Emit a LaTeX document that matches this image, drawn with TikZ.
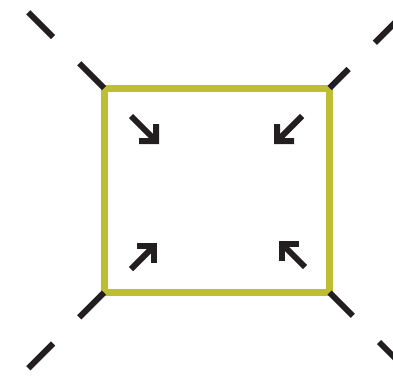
\documentclass[tikz,border=0pt]{standalone}
\usetikzlibrary{arrows.meta}
\definecolor{frame}{RGB}{190,190,52}
\definecolor{ink}{RGB}{35,31,32}
\tikzset {
  >={Straight Barb[angle=90:17pt, line join=miter, line cap=butt]},
  border/.style={draw=frame, line width=7pt, line join=miter},
  diag/.style={draw=ink, line width=6pt, dash pattern=on 35pt off 37pt},
  push/.style={draw=ink, line width=6pt, ->},
}
\begin{document}
\begin{tikzpicture}[x=1pt,y=-1pt]
  \useasboundingbox (0,0) rectangle (393,375);
  \clip (0,0) rectangle (393,375);
  \coordinate (nw) at (104,88);
  \coordinate (ne) at (329.5,88);
  \coordinate (se) at (329.5,292.5);
  \coordinate (sw) at (104,292.5);
  \draw[border] (nw) rectangle (se);
  % dashed diagonals out of the corners
  \draw[diag] (nw) -- ++(-110,-110);
  \draw[diag,dash phase=8pt] (ne) -- ++(90,-90);
  \draw[diag] (sw) -- ++(-110,110);
  \draw[diag,dash phase=2pt] (se) -- ++(90,90);
  % arrows towards the middle
  \draw[push] (131,116) -- (159,144);
  \draw[push] (302,116) -- (274,144);
  \draw[push] (131,269) -- (157,243);
  \draw[push] (305,267) -- (279,241);
\end{tikzpicture}
\end{document}
